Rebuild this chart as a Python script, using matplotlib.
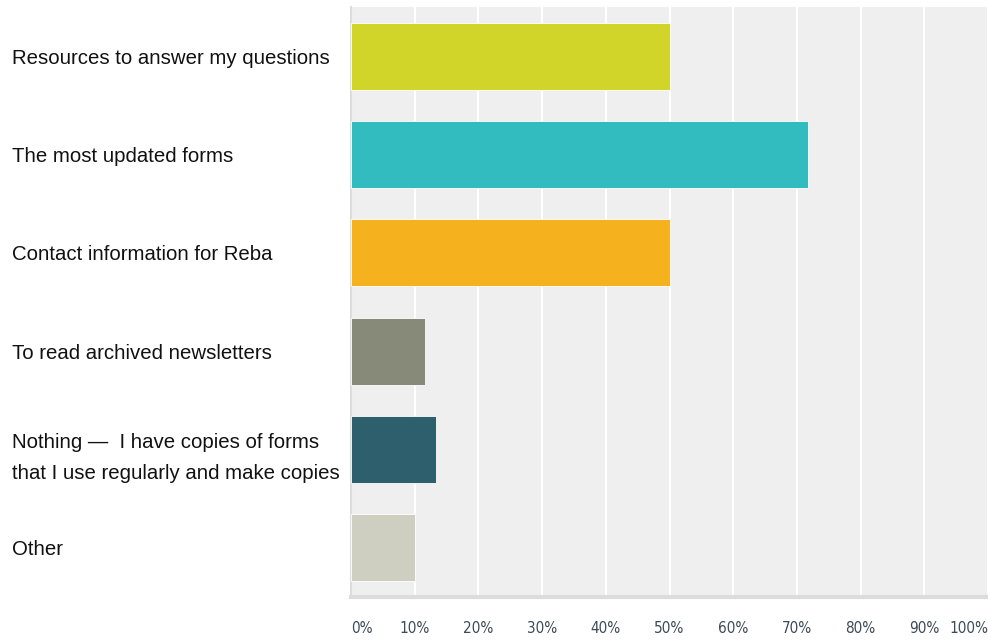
import matplotlib.pyplot as plt
import numpy as np

plt.rcParams['font.family'] = ['Liberation Sans', 'DejaVu Sans']

categories = [
    "Resources to answer my questions",
    "The most updated forms",
    "Contact information for Reba",
    "To read archived newsletters",
    "Nothing \u2014  I have copies of forms\nthat I use regularly and make copies",
    "Other",
]
percent = [50.0, 71.67, 50.0, 11.67, 13.33, 10.0]
colors = ["#d1d52a", "#33bcc0", "#f6b11f", "#888a79", "#2e5f6d", "#cfcfc1"]
xticks = list(range(0, 101, 10))
xtick_labels = [f"{t}%" for t in xticks]

fig = plt.figure(figsize=(9.88, 6.42), dpi=100)
ax = fig.add_axes([351 / 988, 1 - 597 / 642, 637 / 988, 590 / 642])
ax.set_facecolor("#efefef")

y = np.arange(len(categories))
ax.barh(y, percent, height=0.68, color=colors, edgecolor="#ffffff",
        linewidth=0.6, zorder=3)

ax.set_xlim(0, 100)
ax.set_ylim(len(categories) - 0.5, -0.5)

ax.set_xticks(xticks)
ax.set_xticklabels(xtick_labels, fontsize=11, color="#3d4a57",
                   family=['DejaVu Sans'], fontstretch='condensed')
xl = ax.get_xticklabels()
xl[0].set_ha("left")
xl[-1].set_ha("right")
ax.tick_params(axis="x", length=0, pad=17)

ax.set_yticks(y)
ax.set_yticklabels(categories, fontsize=14.7, color="#111111", ha="left",
                   linespacing=1.83)
ax.tick_params(axis="y", length=0, pad=244)

ax.grid(axis="x", color="white", linewidth=1.5, zorder=1)
ax.set_axisbelow(True)

for side in ("top", "right"):
    ax.spines[side].set_visible(False)
ax.spines["left"].set_color("#dddddd")
ax.spines["left"].set_linewidth(1.5)
ax.spines["bottom"].set_color("#dcdcdc")
ax.spines["bottom"].set_linewidth(3)

fig.savefig("out.png", dpi=100)
